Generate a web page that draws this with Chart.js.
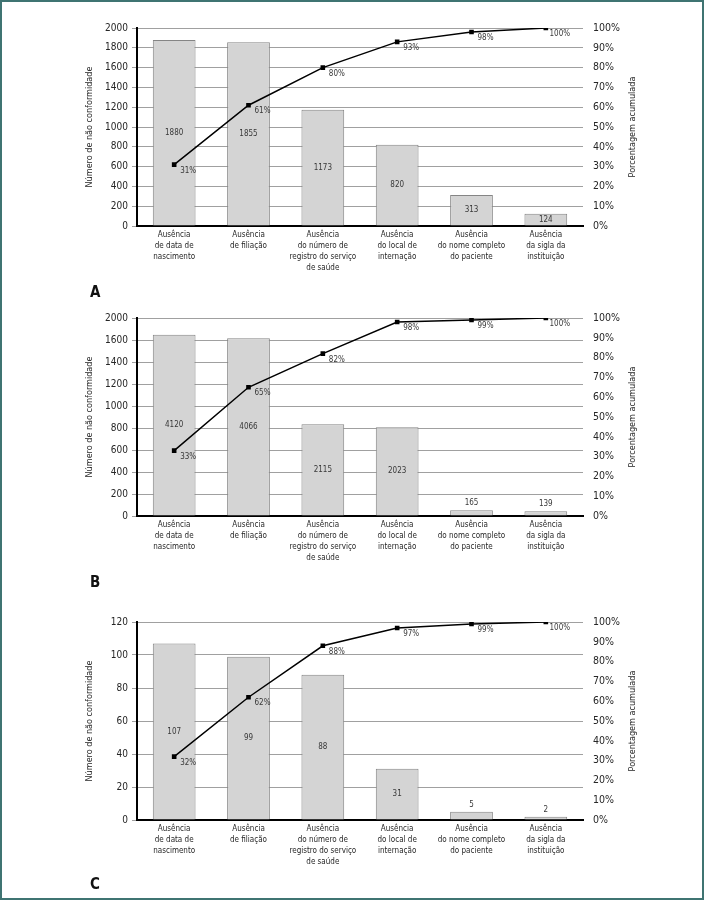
<!DOCTYPE html>
<html>
<head>
<meta charset="utf-8">
<script src="https://cdn.jsdelivr.net/npm/chart.js@4/dist/chart.umd.min.js"></script>
<style>
    html, body { margin: 0; padding: 0; background: #fff; }
    #page {
        position: relative;
        width: 704px;
        height: 900px;
        border: 2px solid #3f7472;
        box-sizing: border-box;
        overflow: hidden;
    }
    .panel { position: absolute; left: -2px; width: 704px; height: 300px; }
    .letter {
        position: absolute;
        left: 88px;
        font-family: "Liberation Sans Narrow", "DejaVu Sans Condensed", sans-serif;
        font-size: 15px;
        line-height: 15px;
        font-weight: bold;
        color: #111;
    }
</style>
</head>
<body>
<div id="page">
    <div class="panel" style="top:-2px"><canvas id="chartA" width="704" height="300"></canvas></div>
    <div class="panel" style="top:288px"><canvas id="chartB" width="704" height="300"></canvas></div>
    <div class="panel" style="top:592px"><canvas id="chartC" width="704" height="300"></canvas></div>
    <div class="letter" style="top:283px">A</div>
    <div class="letter" style="top:573px">B</div>
    <div class="letter" style="top:875px">C</div>
</div>

<script>
/* ============================================================
   DATA
============================================================ */

const categories = [
    ["Ausência", "de data de", "nascimento"],
    ["Ausência", "de filiação"],
    ["Ausência", "do número de", "registro do serviço", "de saúde"],
    ["Ausência", "do local de", "internação"],
    ["Ausência", "do nome completo", "do paciente"],
    ["Ausência", "da sigla da", "instituição"]
];

// A
const barsA   = [1880, 1855, 1173, 820, 313, 124];
const labelsA = [1880, 1855, 1173, 820, 313, 124];
const pctA    = [31, 61, 80, 93, 98, 100];
const ticksA  = ["0", "200", "400", "600", "800", "1000", "1200", "1400", "1600", "1800", "2000"];

// B  (bar heights as drawn on the axis; printed counts differ)
const barsB   = [1648, 1617, 833, 806, 52, 43];
const labelsB = [4120, 4066, 2115, 2023, 165, 139];
const pctB    = [33, 65, 82, 98, 99, 100];
const ticksB  = ["0", "200", "400", "600", "800", "1000", "1200", "1400", "1600", "2000"];

// C
const barsC   = [107, 99, 88, 31, 5, 2];
const labelsC = [107, 99, 88, 31, 5, 2];
const pctC    = [32, 62, 88, 97, 99, 100];
const ticksC  = ["0", "20", "40", "60", "80", "100", "120"];

const leftTitle  = "Número de não conformidade";
const rightTitle = "Porcentagem acumulada";


/* ============================================================
   STYLE
============================================================ */

const FONT = "'Liberation Sans Narrow', 'DejaVu Sans Condensed', sans-serif";
const TEXT = "#262626";
const LABEL = "#383838";
const PLOT = { left: 137, right: 583, top: 28, bottom: 226 };


/* ============================================================
   LABELS PLUGIN
============================================================ */

const paretoLabels = {
    id: "paretoLabels",
    afterDatasetsDraw(chart) {
        const ctx = chart.ctx;
        const barLabels = chart.options.plugins.paretoLabels.barLabels;
        const bars = chart.getDatasetMeta(1).data;
        const pts  = chart.getDatasetMeta(0).data;
        const pct  = chart.data.datasets[0].data;

        ctx.save();
        ctx.fillStyle = LABEL;
        ctx.textAlign = "center";
        ctx.textBaseline = "middle";
        ctx.font = "8px " + FONT;

        bars.forEach((b, i) => {
            const h = b.base - b.y;
            const y = h > 10 ? (b.y + b.base) / 2 : b.y - 7;
            ctx.fillText(String(barLabels[i]), b.x, y);
        });

        pts.forEach((p, i) => {
            ctx.fillText(pct[i] + "%", p.x + 14, p.y + 6);
        });

        // axis titles, both read bottom to top
        const cy = (chart.chartArea.top + chart.chartArea.bottom) / 2;
        ctx.fillStyle = TEXT;
        ctx.font = "9px " + FONT;
        [[90, leftTitle], [633, rightTitle]].forEach(([x, t]) => {
            ctx.save();
            ctx.translate(x, cy);
            ctx.rotate(-Math.PI / 2);
            ctx.fillText(t, 0, 0);
            ctx.restore();
        });
        ctx.restore();
    }
};


/* ============================================================
   CHART BUILDER
============================================================ */

function makePareto(id, bars, barLabels, pct, tickLabels, max, step) {
    const canvas = document.getElementById(id);

    return new Chart(canvas.getContext("2d"), {
        type: "bar",
        data: {
            labels: categories,
            datasets: [
                {
                    type: "line",
                    data: pct,
                    yAxisID: "yR",
                    order: 0,
                    borderColor: "#000",
                    borderWidth: 1.5,
                    pointStyle: "rect",
                    pointRadius: 2.2,
                    pointBackgroundColor: "#000",
                    pointBorderColor: "#000",
                    tension: 0
                },
                {
                    type: "bar",
                    data: bars,
                    yAxisID: "y",
                    order: 1,
                    backgroundColor: "#d4d4d4",
                    borderColor: "#858585",
                    borderWidth: 1,
                    barPercentage: 0.575,
                    categoryPercentage: 1
                }
            ]
        },
        options: {
            responsive: false,
            animation: false,
            layout: { padding: { top: PLOT.top, left: 0, right: 0, bottom: 0 } },
            plugins: {
                legend: { display: false },
                tooltip: { enabled: false },
                paretoLabels: { barLabels }
            },
            scales: {
                x: {
                    grid: { display: false, drawTicks: false },
                    border: { display: true, color: "#000", width: 2 },
                    ticks: {
                        color: TEXT,
                        padding: 3,
                        maxRotation: 0,
                        autoSkip: false,
                        font: { family: FONT, size: 8, lineHeight: "11px" }
                    },
                    afterFit: s => { s.height = canvas.height - PLOT.bottom; }
                },
                y: {
                    position: "left",
                    min: 0,
                    max: max,
                    grid: { color: "#a0a0a0", lineWidth: 1, tickLength: 5, tickColor: "#a0a0a0" },
                    border: { display: true, color: "#000", width: 2 },
                    ticks: {
                        stepSize: step,
                        color: TEXT,
                        padding: 4,
                        font: { family: FONT, size: 10 },
                        callback: (v, i) => tickLabels[i]
                    },
                    afterFit: s => { s.width = PLOT.left; }
                },
                yR: {
                    position: "right",
                    min: 0,
                    max: 100,
                    grid: { display: false, drawTicks: false },
                    border: { display: false },
                    ticks: {
                        stepSize: 10,
                        color: TEXT,
                        padding: 10,
                        font: { family: FONT, size: 10.5 },
                        callback: v => v + "%"
                    },
                    afterFit: s => { s.width = canvas.width - PLOT.right; }
                }
            }
        },
        plugins: [paretoLabels]
    });
}


/* ============================================================
   DRAW
============================================================ */

makePareto("chartA", barsA, labelsA, pctA, ticksA, 2000, 200);
makePareto("chartB", barsB, labelsB, pctB, ticksB, 1800, 200);
makePareto("chartC", barsC, labelsC, pctC, ticksC, 120, 20);
</script>
</body>
</html>
